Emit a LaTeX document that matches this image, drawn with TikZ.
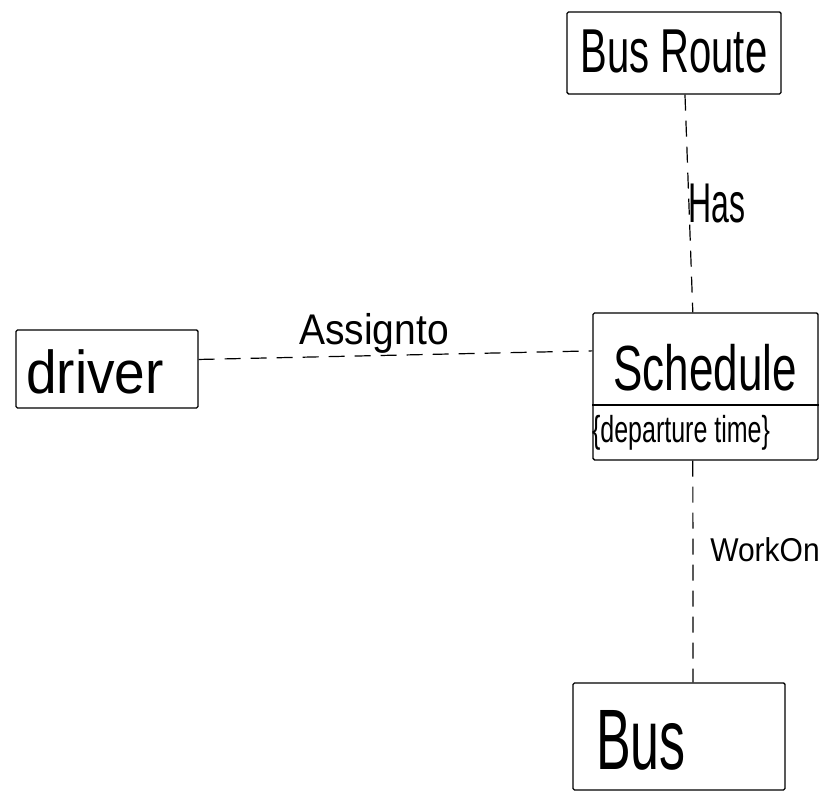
\documentclass[tikz,border=0pt]{standalone}
\usepackage{fontspec}
\setmainfont{Liberation Sans}
\usetikzlibrary{calc}
% #1 font size (pt), #2 vertical stretch, #3 text
\newcommand\handtext[3]{\scalebox{1}[#2]{\fontsize{#1}{#1}\selectfont #3}}
\begin{document}
\begin{tikzpicture}[x=1pt,y=1pt,
  entity/.style={draw, line width=1.4pt, inner sep=0pt, rounded corners=1.5pt},
  word/.style={inner sep=0pt, anchor=center},
  link/.style={line width=1.2pt, dash pattern=on 16pt off 10pt},
  linklabel/.style={inner sep=0pt}]
\useasboundingbox (0,0) rectangle (820,792);

% entity boxes
\node[entity, minimum width=214pt, minimum height=82pt] (busroute) at (674,739) {};
\node[entity, minimum width=182pt, minimum height=78pt] (driver) at (107,423) {};
\node[entity, minimum width=225pt, minimum height=147pt] (schedule) at (705.5,405.5) {};
\node[entity, minimum width=212pt, minimum height=107pt] (bus) at (679,55.5) {};

% attribute compartment of Schedule
\draw[line width=1.2pt] ($(schedule.west)+(0,-18.5)$) -- ($(schedule.east)+(0,-18.5)$);

% box texts
\node[word] (busroutetext) at (674,741) {\handtext{40}{1.55}{Bus Route}};
\node[word] (drivertext) at (95,420) {\handtext{55}{1.1}{driver}};
\node[word] (scheduletext) at (705,424) {\handtext{44}{1.45}{Schedule}};
\node[word] (attrtext) at (681,359) {\handtext{25}{1.5}{\{departure time\}}};
\node[word] (bustext) at (641,52) {\handtext{52}{1.65}{Bus}};

% associations
\draw[link] ($(busroute.south west)!0.551!(busroute.south east)$) -- ($(schedule.north west)!0.444!(schedule.north east)$);
\draw[link] ($(driver.north east)!0.38!(driver.south east)$) -- ($(schedule.north west)!0.26!(schedule.south west)$);
\draw[link] ($(schedule.south west)!0.444!(schedule.south east)$) -- ($(bus.north west)!0.566!(bus.north east)$);

% association labels
\node[linklabel] (has) at (717,588) {\handtext{32}{1.75}{Has}};
\node[linklabel] (assign) at (374,459) {\handtext{39}{1.1}{Assignto}};
\node[linklabel] (workon) at (765,242) {\handtext{30}{1.1}{WorkOn}};
\end{tikzpicture}
\end{document}
